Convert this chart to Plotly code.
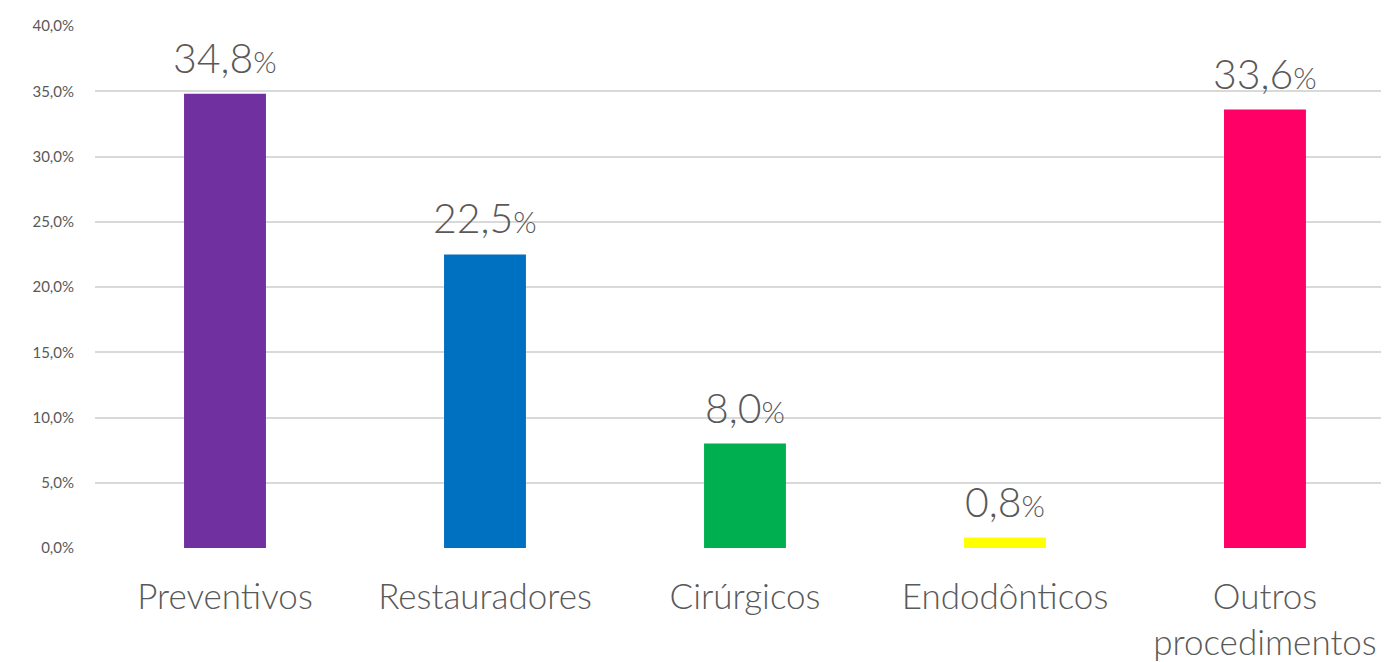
import plotly.graph_objects as go

categories = ["Preventivos", "Restauradores", "Cirúrgicos", "Endodônticos", "Outros<br>procedimentos"]
values = [34.8, 22.5, 8.0, 0.8, 33.6]
bar_colors = ["#7030A0", "#0070C0", "#00B050", "#FFFF00", "#FF0066"]
y_ticks = [0, 5, 10, 15, 20, 25, 30, 35, 40]

FONT = "Lato"
GREY = "#595959"


def pt(v, decimals=1):
    return f"{v:.{decimals}f}".replace(".", ",")


fig = go.Figure(
    go.Bar(
        x=categories,
        y=values,
        marker=dict(color=bar_colors, line=dict(width=0)),
        hoverinfo="x+y",
    )
)

# value labels sitting above each bar
for cat, v in zip(categories, values):
    fig.add_annotation(
        x=cat,
        y=v,
        text=pt(v) + "<span style='font-size:30px'>%</span>",
        showarrow=False,
        yanchor="bottom",
        yshift=10,
        font=dict(family=FONT, size=41, color=GREY, weight=300),
    )

# the page body adds an 8px offset, so margins are trimmed to compensate
fig.update_layout(
    width=1389,
    height=662,
    margin=dict(l=87, r=8, t=18, b=122),
    paper_bgcolor="white",
    plot_bgcolor="white",
    bargap=0.685,
    showlegend=False,
    font=dict(family=FONT, color=GREY),
)
fig.update_xaxes(
    range=[-0.5, 4.477],
    automargin=False,
    showgrid=False,
    showline=False,
    ticks="",
    tickfont=dict(family=FONT, size=35, color=GREY, weight=300),
    ticklabelstandoff=25,
)
fig.update_yaxes(
    range=[0, 40],
    automargin=False,
    tickvals=y_ticks,
    ticktext=[pt(t) + "%" for t in y_ticks],
    showgrid=True,
    gridcolor="#D9D9D9",
    gridwidth=1.5,
    zeroline=False,
    showline=False,
    tickfont=dict(family=FONT, size=15, color=GREY),
    ticklabelstandoff=20,
)

fig.write_html("out.html")
